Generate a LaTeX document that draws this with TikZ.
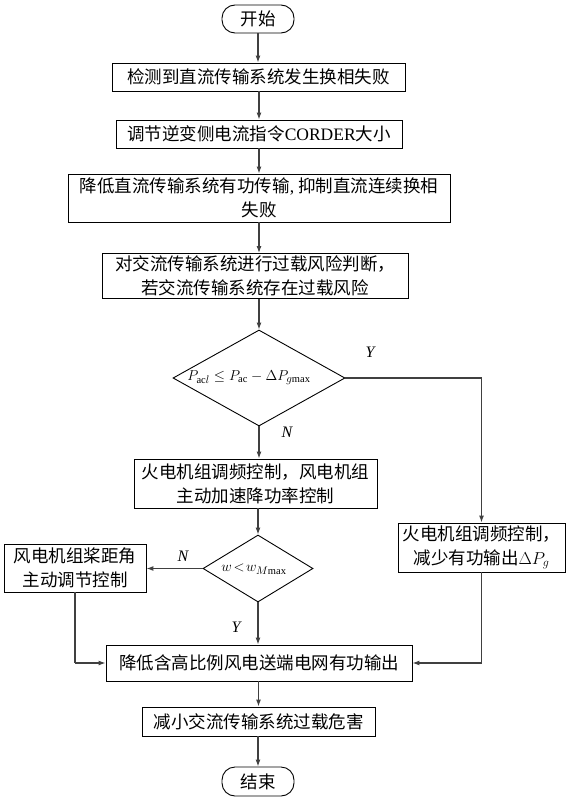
\documentclass[tikz,border=0pt]{standalone}
\usepackage{fontspec}
\setmainfont{Noto Sans CJK SC}
\setmathrm{Liberation Serif}
\newfontfamily\lat{Liberation Serif}
\usetikzlibrary{arrows.meta,shapes.geometric}
\begin{document}
\begin{tikzpicture}[x=1pt,y=-1pt,
  box/.style={draw,line width=0.9pt,inner sep=0pt,align=center,font=\fontsize{17.5}{24}\selectfont},
  term/.style={box,rounded corners=13pt},
  dia/.style={draw,line width=0.9pt,diamond,inner sep=0pt},
  conn/.style={draw=black!75,line width=1.1pt},
  arr/.style={conn,-{Latex[length=7pt,width=5pt]}},
  lab/.style={font=\lat\itshape\fontsize{16}{16}\selectfont}]
\useasboundingbox (0,0) rectangle (569,800);
\node[term,minimum width=72pt,minimum height=28pt] (start) at (258,19) {开始};
\node[box,minimum width=293pt,minimum height=28pt] (b1) at (258.5,77) {检测到直流传输系统发生换相失败};
\node[box,minimum width=286pt,minimum height=28pt] (b2) at (259,134) {调节逆变侧电流指令{\lat CORDER}大小};
\node[box,minimum width=382pt,minimum height=48pt] (b3) at (259,198) {降低直流传输系统有功传输{\lat ,} 抑制直流连续换相\\失败};
\node[box,minimum width=306pt,minimum height=45pt] (b4) at (255,276) {对交流传输系统进行过载风险判断，\\若交流传输系统存在过载风险};
\node[dia,minimum width=172pt,minimum height=96pt] (d1) at (259,378) {};
\node[font=\fontsize{15}{15}\selectfont] (d1t) at (249,378) {$P_{\mathrm{ac}l}\leq P_{\mathrm{ac}}-\Delta P_{g\mathrm{max}}$};
\node[box,minimum width=243pt,minimum height=49pt] (b5) at (255.5,483.5) {火电机组调频控制，风电机组\\主动加速降功率控制};
\node[dia,minimum width=110pt,minimum height=67pt] (d2) at (258,568.5) {};
\node[font=\fontsize{15}{15}\selectfont] (d2t) at (254,569) {$w\!<\!w_{M\mathrm{max}}$};
\node[box,minimum width=142pt,minimum height=48pt] (b6) at (75,568) {风电机组桨距角\\主动调节控制};
\node[box,minimum width=167pt,minimum height=49pt] (br) at (481.5,547.5) {火电机组调频控制，\\减少有功输出$\Delta P_g$};
\node[box,minimum width=306pt,minimum height=36pt] (b7) at (259,663) {降低含高比例风电送端电网有功输出};
\node[box,minimum width=233pt,minimum height=29pt] (b8) at (258.5,721.5) {减小交流传输系统过载危害};
\node[term,minimum width=72pt,minimum height=29pt] (end) at (258,781.5) {结束};
\node[lab] (ly1) at (370,352) {Y};
\node[lab] (ln1) at (287,432) {N};
\node[lab] (ln2) at (183,556) {N};
\node[lab] (ly2) at (236,627) {Y};
\coordinate (c1) at (481.5,378);
\coordinate (c2) at (481.5,663);
\coordinate (c3) at (75,663);
\draw[arr] (start.south) -- (start.south |- b1.north);
\draw[arr] (b1.south -| b2.north) -- (b2.north);
\draw[arr] (b2.south) -- (b2.south |- b3.north);
\draw[arr] (b3.south) -- (b3.south |- b4.north);
\draw[arr] (b4.south -| d1.north) -- (d1.north);
\draw[arr] (d1.south) -- (d1.south |- b5.north);
\draw[arr] (b5.south -| d2.north) -- (d2.north);
\draw[arr] (d2.south) -- (d2.south |- b7.north);
\draw[arr] (d2.west) -- (d2.west -| b6.east);
\draw[conn] (d1.east) -- (c1);
\draw[arr] (c1) -- (br.north);
\draw[conn] (br.south) -- (c2);
\draw[arr] (c2) -- (b7.east);
\draw[conn] (b6.south) -- (c3);
\draw[arr] (c3) -- (b7.west);
\draw[arr] (b7.south -| b8.north) -- (b8.north);
\draw[arr] (b8.south -| end.north) -- (end.north);
\end{tikzpicture}
\end{document}
